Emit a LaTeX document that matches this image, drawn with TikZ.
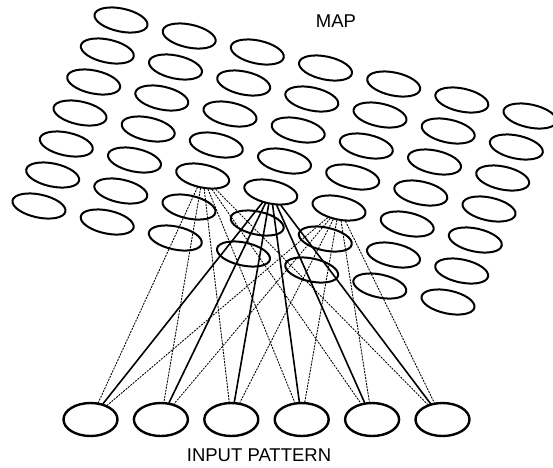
\documentclass[tikz,border=0pt]{standalone}
\usepackage{fontspec}
\setmainfont{Liberation Sans}
\usetikzlibrary{shapes.geometric}

\begin{document}
\begin{tikzpicture}[x=1pt, y=-1pt, line cap=round, line join=round,
	unit/.style={ellipse, draw, line width=2pt, inner sep=0pt, minimum width=54pt, minimum height=23pt, rotate=-12},
	inunit/.style={ellipse, draw, line width=2.4pt, inner sep=0pt, minimum width=54pt, minimum height=33pt},
	weight/.style={line width=1.6pt},
	nbweight/.style={line width=0.9pt, dash pattern=on 1.5pt off 1.6pt},
	title/.style={font=\fontsize{18.5}{20}\selectfont}]
	\useasboundingbox (0,0) rectangle (553,467);
	% map units, 7 x 7 grid in perspective
	\foreach \i in {0,...,6}
		\foreach \j in {0,...,6}
			\node[unit] (m-\i-\j) at ({121+68.17*\j-13.67*\i}, {20+16*\j+31*\i}) {};
	% input units
	\foreach \k in {1,...,6}
		\node[inunit] (in-\k) at ({90.5+70.4*(\k-1)}, 419.5) {};
	% winner m-4-3 (solid) and its neighbours (dotted)
	\foreach \k in {1,...,6} {
		\draw[nbweight] (m-4-2) -- (in-\k);
		\draw[nbweight] (m-4-4) -- (in-\k);
		\draw[weight] (m-4-3) -- (in-\k);
	}
	\node[title] (map) at (336,21.5) {MAP};
	\node[title] (input) at (259,455.5) {INPUT PATTERN};
\end{tikzpicture}
\end{document}
